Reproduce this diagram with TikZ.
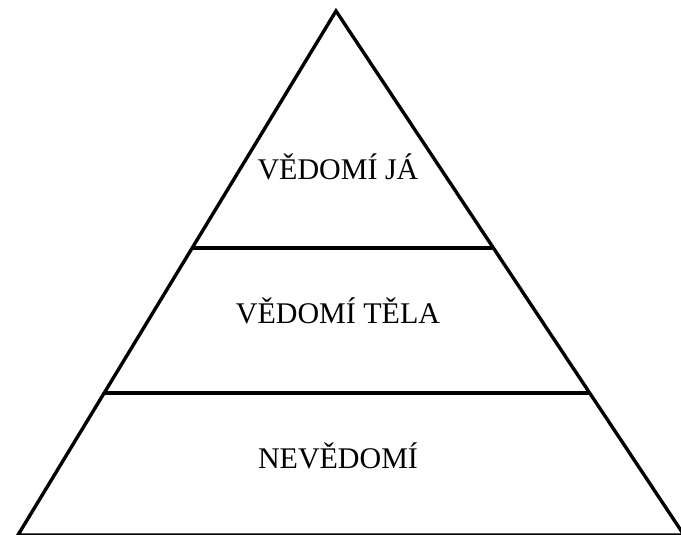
\documentclass[tikz,border=0pt]{standalone}
\usepackage{fontspec}
\setmainfont{Liberation Serif}
\usetikzlibrary{calc}
\begin{document}
\begin{tikzpicture}[x=1pt,y=-1pt,
  edge/.style={line width=3.4pt,line join=miter,black},
  label/.style={font=\fontsize{30}{32}\selectfont,anchor=base,inner sep=0pt,text=black}]
\useasboundingbox (0,0) rectangle (681,535);
\clip (0,0) rectangle (681,535);
\coordinate (apex) at (336,11);
\coordinate (bl) at (18,535);
\coordinate (br) at (684,535);
\coordinate (l1) at ($(apex)!0.4523!(bl)$);
\coordinate (r1) at ($(apex)!0.4523!(br)$);
\coordinate (l2) at ($(apex)!0.729!(bl)$);
\coordinate (r2) at ($(apex)!0.729!(br)$);
\draw[edge] (bl) -- (apex) -- (br) -- cycle;
\draw[edge] (l1) -- (r1);
\draw[edge] (l2) -- (r2);
\node[label] (t1) at (338,179) {VĚDOMÍ JÁ};
\node[label] (t2) at (338,323) {VĚDOMÍ TĚLA};
\node[label] (t3) at (338,468) {NEVĚDOMÍ};
\end{tikzpicture}
\end{document}
